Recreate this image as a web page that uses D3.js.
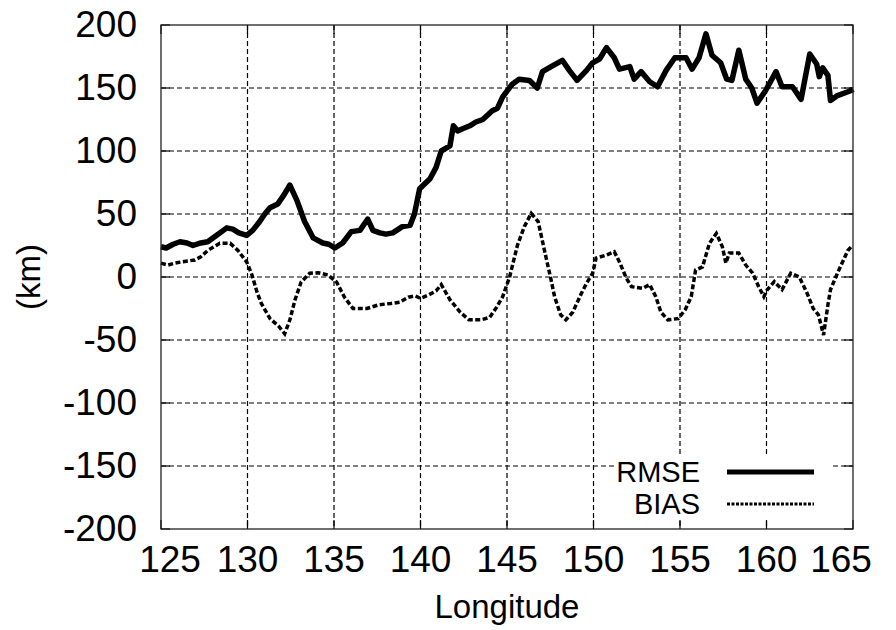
<!DOCTYPE html>
<html><head><meta charset="utf-8">
<script src="https://cdn.jsdelivr.net/npm/d3@7"></script>
<style>body{margin:0;background:#fff}</style>
</head><body><svg id="c" width="896" height="630"></svg>
<script>
const rmseLon = [125.0,125.3,125.7,126.1,126.5,126.85,127.3,127.7,128.2,128.8,129.15,129.5,129.95,130.3,130.65,131.0,131.3,131.75,132.1,132.45,132.85,133.3,133.8,134.35,134.7,135.05,135.5,136.0,136.5,136.95,137.25,137.65,138.0,138.4,138.95,139.4,139.65,139.95,140.55,140.9,141.2,141.7,141.9,142.15,142.5,142.85,143.2,143.6,144.15,144.45,144.75,145.3,145.7,146.3,146.75,147.05,147.55,148.2,148.6,149.05,149.6,149.95,150.35,150.75,151.2,151.5,152.1,152.35,152.75,153.25,153.7,154.2,154.7,155.35,155.7,156.1,156.5,156.85,157.35,157.7,158.0,158.4,158.8,159.15,159.45,159.95,160.55,160.9,161.5,162.0,162.5,162.9,163.05,163.25,163.55,163.7,164.1,164.9,165.0];
const rmseKm = [24,23,26,28,27,25,27,28,33,39,38,35,33,37,43,50,55,58,65,73,61,44,31,27,26,23,27,36,37,46,37,35,34,35,40,41,50,70,78,87,100,104,120,116,118,120,123,125,132,134,143,153,157,156,150,163,167,172,164,156,164,170,173,182,174,165,167,157,163,155,151,164,174,174,165,174,193,176,170,157,156,180,157,150,138,148,163,151,151,141,177,169,159,166,160,140,144,148,149];
const biasLon = [125.0,125.4,125.8,126.2,126.95,127.3,127.7,128.4,129.0,129.45,129.95,130.25,130.55,130.8,131.3,131.8,132.15,132.45,132.75,133.1,133.6,134.1,134.65,135.15,135.6,136.1,136.9,137.6,138.3,138.8,139.3,139.7,140.0,140.5,140.9,141.2,141.7,142.3,142.8,143.5,144.0,144.4,144.75,145.15,145.6,146.0,146.4,146.8,147.2,147.55,147.75,148.1,148.4,148.8,149.3,149.6,149.95,150.15,150.75,151.2,151.5,151.9,152.2,152.85,153.25,153.6,153.9,154.3,154.9,155.3,155.65,155.9,156.3,156.7,157.1,157.45,157.65,157.85,158.4,158.8,159.2,159.55,159.85,160.05,160.45,160.9,161.4,161.9,162.35,162.7,163.0,163.3,163.55,163.7,164.1,164.7,164.9];
const biasKm = [11,9.5,11,12,13.5,16,21,26.7,26.7,21,12,2,-12,-21,-33,-39,-45,-34,-18,-4,3,3.4,1.6,-4,-16,-25,-25,-22,-21,-20,-16,-15,-17,-14,-11,-6,-18,-28,-34,-34,-32,-24,-15.6,0,25,40,50.5,44,19,-2.4,-15.6,-30,-34,-28,-13,-5,3,15,17.4,20,12,-1,-7.7,-9,-6,-15.6,-28,-34,-33,-26,-15.6,5.5,8,26.7,34.6,24,11,19,19,9.5,3,-7.7,-15.6,-10,-3.7,-10,3,0,-13,-25,-30,-46,-22,-10,3,21,24];
const xTicks = [125,130,135,140,145,150,155,160,165];
const yTicks = [-200,-150,-100,-50,0,50,100,150,200];
const seriesNames = ["RMSE","BIAS"];
const xTitle = "Longitude";
const yTitle = "(km)";

const L = 161, R = 853, T = 25, B = 529;
const svg = d3.select("#c");
const font = "'Liberation Sans', Arial, Helvetica, sans-serif";
const x = d3.scaleLinear().domain([125,165]).range([L,R]);
const y = d3.scaleLinear().domain([-200,200]).range([B,T]);

// grid
const g = svg.append("g");
g.selectAll(".vg").data(xTicks.slice(1,-1)).join("line")
  .attr("x1",d=>x(d)).attr("x2",d=>x(d)).attr("y1",T).attr("y2",B)
  .attr("stroke","#000").attr("stroke-width",1.2).attr("stroke-dasharray","5,3");
g.selectAll(".hg").data(yTicks.slice(1,-1)).join("line")
  .attr("y1",d=>y(d)).attr("y2",d=>y(d)).attr("x1",L).attr("x2",R)
  .attr("stroke","#000").attr("stroke-width",1.2).attr("stroke-dasharray","5,3");

// key box (opaque)
svg.append("rect").attr("x",617).attr("y",457).attr("width",213).attr("height",63).attr("fill","#fff");

// ticks (mirror, inward)
const tk = svg.append("g").attr("stroke","#000").attr("stroke-width",1.2);
xTicks.forEach(d=>{
  tk.append("line").attr("x1",x(d)).attr("x2",x(d)).attr("y1",B).attr("y2",B-9);
  tk.append("line").attr("x1",x(d)).attr("x2",x(d)).attr("y1",T).attr("y2",T+9);
});
yTicks.forEach(d=>{
  tk.append("line").attr("y1",y(d)).attr("y2",y(d)).attr("x1",L).attr("x2",L+9);
  tk.append("line").attr("y1",y(d)).attr("y2",y(d)).attr("x1",R).attr("x2",R-9);
});

// lines
const rmse = rmseLon.map((d,i)=>[d,rmseKm[i]]);
const bias = biasLon.map((d,i)=>[d,biasKm[i]]);
const line = d3.line().x(d=>x(d[0])).y(d=>y(d[1]));
svg.append("path").attr("d",line(bias)).attr("fill","none").attr("stroke","#000")
  .attr("stroke-width",3.5).attr("stroke-dasharray","5,2.5");
svg.append("path").attr("d",line(rmse)).attr("fill","none").attr("stroke","#000")
  .attr("stroke-width",5.5).attr("stroke-linejoin","round");

// border
svg.append("rect").attr("x",L).attr("y",T).attr("width",R-L).attr("height",B-T)
  .attr("fill","none").attr("stroke","#222").attr("stroke-width",1.3);

// tick labels
const xShift = {125:9, 165:-12};
svg.selectAll(".xl").data(xTicks).join("text")
  .attr("x",d=>x(d)+(xShift[d]||0)).attr("y",572).attr("text-anchor","middle")
  .attr("font-family",font).attr("font-size",37).text(d=>d);
svg.selectAll(".yl").data(yTicks).join("text")
  .attr("x",137).attr("y",d=>y(d)+12).attr("text-anchor","end")
  .attr("font-family",font).attr("font-size",37).text(d=>d);

// axis titles
svg.append("text").attr("x",507).attr("y",618).attr("text-anchor","middle")
  .attr("font-family",font).attr("font-size",33).text(xTitle);
svg.append("text").attr("transform","translate(40,277) rotate(-90)").attr("text-anchor","middle")
  .attr("font-family",font).attr("font-size",33).text(yTitle);

// legend
const ly = [472, 504];
svg.selectAll(".lt").data(seriesNames).join("text")
  .attr("x",700).attr("y",(d,i)=>ly[i]+10).attr("text-anchor","end")
  .attr("font-family",font).attr("font-size",29).text(d=>d);
svg.append("line").attr("x1",727).attr("x2",814).attr("y1",ly[0]).attr("y2",ly[0])
  .attr("stroke","#000").attr("stroke-width",5);
svg.append("line").attr("x1",727).attr("x2",814).attr("y1",ly[1]).attr("y2",ly[1])
  .attr("stroke","#000").attr("stroke-width",3).attr("stroke-dasharray","3,1.5");
</script></body></html>
